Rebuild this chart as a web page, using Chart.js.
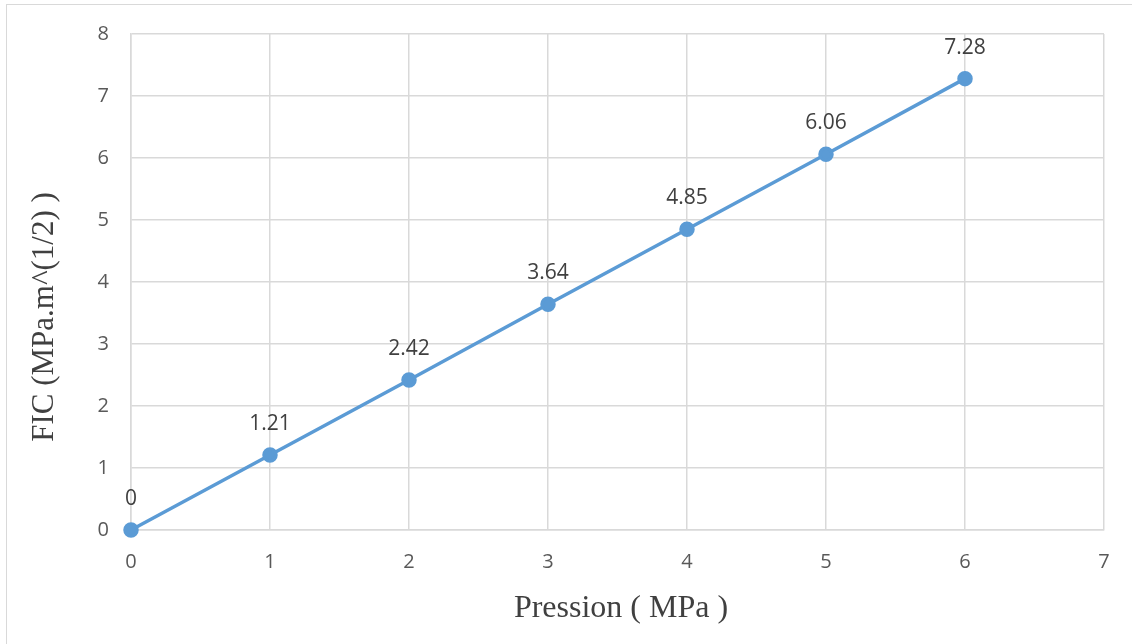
<!DOCTYPE html>
<html>
<head>
<meta charset="utf-8">
<script src="https://cdn.jsdelivr.net/npm/chart.js@4"></script>
<style>
  html, body { margin: 0; padding: 0; background: #fff; }
  #wrap { position: relative; width: 1132px; height: 644px; }
  #frame { position: absolute; left: 6px; top: 4px; right: 0; bottom: 0; border-top: 1px solid #d9d9d9; border-left: 1px solid #d9d9d9; }
  canvas { position: absolute; left: 0; top: 0; }
</style>
</head>
<body>
<div id="wrap">
  <div id="frame"></div>
  <canvas id="myChart" width="1132" height="644"></canvas>
</div>
<script>
const pressure = [0, 1, 2, 3, 4, 5, 6];
const fic = [0, 1.21, 2.42, 3.64, 4.85, 6.06, 7.28];
const xTitle = 'Pression ( MPa )';
const yTitle = 'FIC (MPa.m^(1/2) )';

const serif = '"Liberation Serif", "Times New Roman", serif';
const sans = '"Open Sans", sans-serif';

// value above each point, like the Excel data labels
const pointLabels = {
    id: 'pointLabels',
    afterDatasetsDraw(chart) {
        const ctx = chart.ctx;
        const meta = chart.getDatasetMeta(0);
        ctx.save();
        ctx.font = '21px ' + sans;
        ctx.fillStyle = '#404040';
        ctx.textAlign = 'center';
        ctx.textBaseline = 'middle';
        meta.data.forEach((pt, i) => {
            ctx.fillText(String(fic[i]), pt.x, pt.y - 31);
        });
        ctx.restore();
    }
};

// axis titles drawn by hand so they sit where the original puts them
const axisTitles = {
    id: 'axisTitles',
    afterDraw(chart) {
        const ctx = chart.ctx;
        ctx.save();
        ctx.fillStyle = '#404040';
        ctx.textAlign = 'center';
        ctx.textBaseline = 'middle';
        ctx.font = '32px ' + serif;
        ctx.fillText(xTitle, 621, 609);
        ctx.translate(45, 317);
        ctx.rotate(-Math.PI / 2);
        ctx.font = '31px ' + serif;
        ctx.fillText(yTitle, 0, 0);
        ctx.restore();
    }
};

const ctx = document.getElementById('myChart').getContext('2d');
new Chart(ctx, {
    type: 'scatter',
    data: {
        datasets: [{
            data: pressure.map((p, i) => ({ x: p, y: fic[i] })),
            showLine: true,
            clip: false,
            borderColor: '#5B9BD5',
            backgroundColor: '#5B9BD5',
            borderWidth: 3.5,
            pointRadius: 6,
            pointHoverRadius: 6
        }]
    },
    options: {
        responsive: false,
        animation: false,
        layout: { padding: { left: 0, top: 34, right: 28, bottom: 0 } },
        plugins: {
            legend: { display: false },
            tooltip: { enabled: false }
        },
        scales: {
            x: {
                type: 'linear',
                min: 0,
                max: 7,
                ticks: { stepSize: 1, color: '#595959', font: { family: sans, size: 20 }, padding: 20 },
                grid: { color: '#d9d9d9', lineWidth: 1.5, drawTicks: false },
                border: { color: '#d9d9d9', width: 1.5 },
                afterFit(scale) { scale.height = 114; }
            },
            y: {
                min: 0,
                max: 8,
                ticks: { stepSize: 1, color: '#595959', font: { family: sans, size: 20 }, padding: 22 },
                grid: { color: '#d9d9d9', lineWidth: 1.5, drawTicks: false },
                border: { color: '#d9d9d9', width: 1.5 },
                afterFit(scale) { scale.width = 131; }
            }
        }
    },
    plugins: [pointLabels, axisTitles]
});
</script>
</body>
</html>
